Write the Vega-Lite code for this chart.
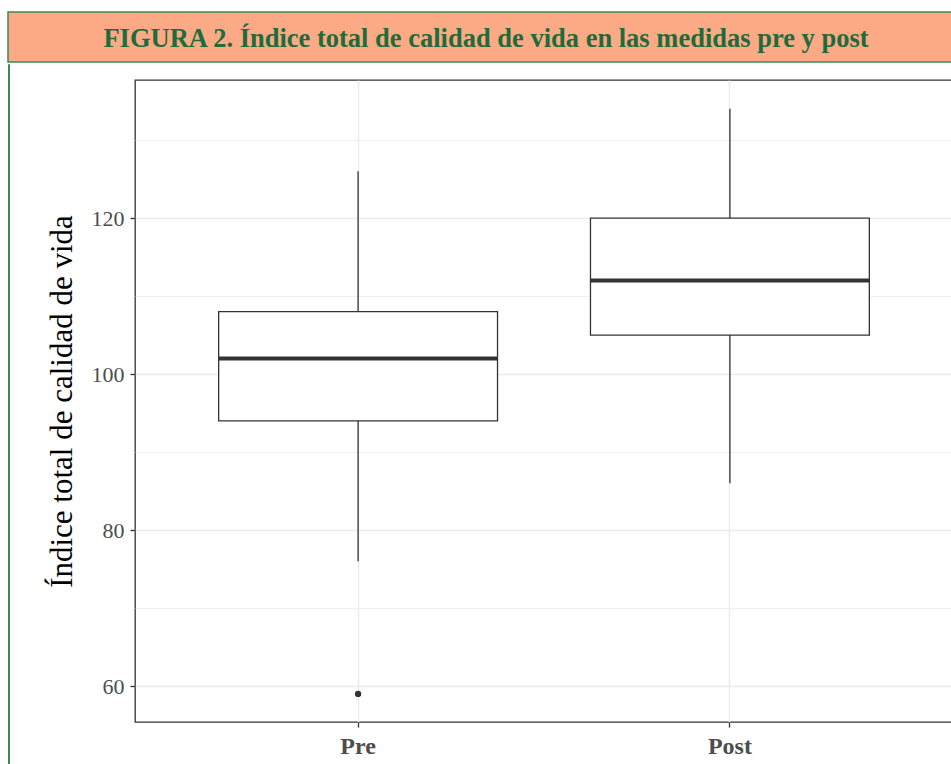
{
  "$schema": "https://vega.github.io/schema/vega-lite/v6.json",
  "padding": {"left": 7, "top": 11, "right": 0, "bottom": 0},
  "background": "white",
  "spacing": 0,
  "config": {"font": "Liberation Serif"},
  "vconcat": [
    {
      "width": 944,
      "height": 50,
      "view": {"fill": "#FBAA85", "stroke": "#3B8A5A", "strokeWidth": 1.5},
      "data": {"values": [{"titulo": "FIGURA 2. Índice total de calidad de vida en las medidas pre y post"}]},
      "mark": {"type": "text", "font": "Liberation Serif", "fontWeight": "bold", "fontSize": 26.5, "color": "#1E6B3C", "baseline": "middle", "dx": 6, "dy": 2},
      "encoding": {
        "x": {"field": "titulo", "type": "nominal", "axis": null},
        "y": {"field": "titulo", "type": "nominal", "axis": null},
        "text": {"field": "titulo"}
      }
    },
    {
      "spacing": 35,
      "hconcat": [
        {
          "width": 1,
          "height": 703,
          "view": {"stroke": "#3B8A5A", "strokeWidth": 1, "fill": null},
          "data": {"values": [{"a": ""}]},
          "mark": "text",
          "encoding": {"text": {"field": "a"}}
        },
        {
          "spacing": 0,
          "vconcat": [
            {
              "width": 1,
              "height": 15,
              "view": {"stroke": null},
              "data": {"values": [{"a": ""}]},
              "mark": "text",
              "encoding": {"text": {"field": "a"}}
            },
            {
              "width": 818,
              "height": 642,
              "view": {"stroke": "#333333", "strokeWidth": 1.3, "fill": "white"},
              "data": {"values": [
                {"medida": "Pre", "minimo": 76, "q1": 94, "mediana": 102, "q3": 108, "maximo": 126, "atipico": 59},
                {"medida": "Post", "minimo": 86, "q1": 105, "mediana": 112, "q3": 120, "maximo": 134, "atipico": null}
              ]},
              "encoding": {
                "x": {
                  "field": "medida", "type": "nominal", "sort": ["Pre", "Post"],
                  "scale": {"paddingInner": 0, "paddingOuter": 0.1},
                  "axis": {"title": null, "labelFont": "Liberation Serif", "labelFontSize": 24, "labelFontWeight": "bold", "labelColor": "#4d4d4d", "labelPadding": 7, "labelAngle": 0, "tickColor": "#333333", "tickSize": 5, "tickWidth": 1.3, "grid": true, "gridColor": "#ebebeb", "gridWidth": 1.4, "domain": false}
                }
              },
              "layer": [
                {
                  "mark": {"type": "rule", "color": "#333333", "strokeWidth": 1.3},
                  "encoding": {
                    "y": {
                      "field": "minimo", "type": "quantitative",
                      "title": "Índice total de calidad de vida",
                      "scale": {"domain": [55.4, 137.7], "nice": false, "zero": false},
                      "axis": {
                        "values": [60, 70, 80, 90, 100, 110, 120, 130],
                        "labelExpr": "datum.value % 20 === 0 ? datum.label : ''",
                        "labelFont": "Liberation Serif", "labelFontSize": 22, "labelColor": "#4d4d4d", "labelPadding": 6,
                        "tickColor": "#333333", "tickSize": 5, "tickWidth": 1.3,
                        "tickOpacity": {"condition": {"test": "datum.value % 20 === 0", "value": 1}, "value": 0},
                        "grid": true, "gridColor": "#ebebeb",
                        "gridWidth": {"condition": {"test": "datum.value % 20 === 0", "value": 1.4}, "value": 0.7},
                        "domain": false,
                        "titleFont": "Liberation Serif", "titleFontSize": 31, "titleFontWeight": "normal", "titleColor": "black", "titlePadding": 13
                      }
                    },
                    "y2": {"field": "maximo"}
                  }
                },
                {
                  "mark": {"type": "bar", "fill": "white", "stroke": "#333333", "strokeWidth": 1.3, "width": {"band": 0.75}},
                  "encoding": {
                    "y": {"field": "q1", "type": "quantitative", "title": "Índice total de calidad de vida"},
                    "y2": {"field": "q3"}
                  }
                },
                {
                  "mark": {"type": "tick", "color": "#333333", "thickness": 4, "size": 279, "opacity": 1},
                  "encoding": {
                    "y": {"field": "mediana", "type": "quantitative", "title": "Índice total de calidad de vida"}
                  }
                },
                {
                  "transform": [{"filter": "datum.atipico != null"}],
                  "mark": {"type": "point", "filled": true, "color": "#333333", "size": 40, "opacity": 1},
                  "encoding": {
                    "y": {"field": "atipico", "type": "quantitative", "title": "Índice total de calidad de vida"}
                  }
                }
              ]
            }
          ]
        }
      ]
    }
  ]
}
